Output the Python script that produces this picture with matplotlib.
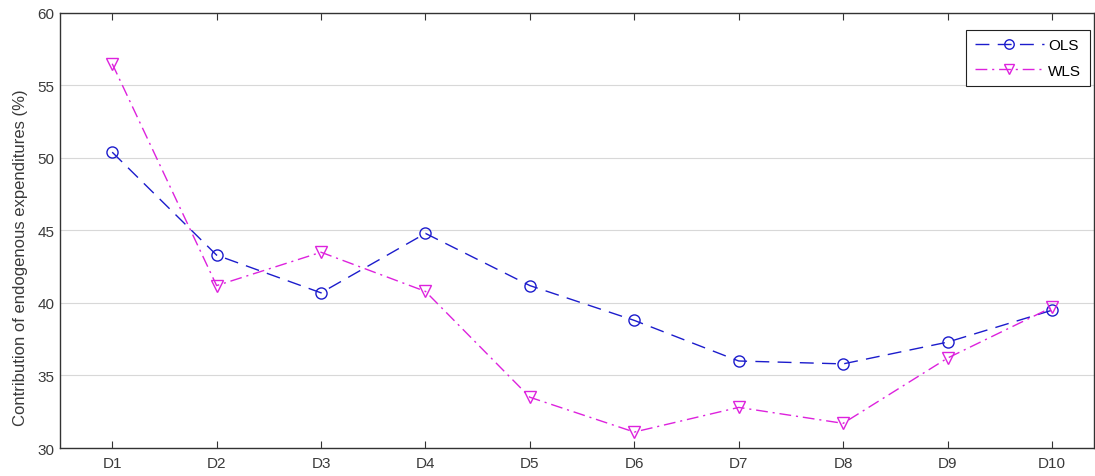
import numpy as np
import matplotlib
matplotlib.use('Agg')
from matplotlib import pyplot as plt

# categories and series values
deciles = ['D1', 'D2', 'D3', 'D4', 'D5', 'D6', 'D7', 'D8', 'D9', 'D10']
ols = [50.4, 43.3, 40.7, 44.8, 41.2, 38.8, 36.0, 35.8, 37.3, 39.5]
wls = [56.5, 41.2, 43.5, 40.8, 33.5, 31.1, 32.8, 31.7, 36.2, 39.7]
y_ticks = [30, 35, 40, 45, 50, 55, 60]

plt.rcParams['font.family'] = ['Liberation Sans', 'DejaVu Sans']

fig = plt.figure(figsize=(10.95, 4.77), dpi=100)
ax = fig.add_axes([0.0548, 0.0587, 0.944, 0.912])

x = np.arange(1, len(deciles) + 1)
ax.plot(x, ols, linestyle=(0, (10, 6)), color='#1c1ccc', linewidth=1.0,
        marker='o', markersize=8, markerfacecolor='none',
        markeredgecolor='#1c1ccc', markeredgewidth=1.0, label='OLS')
ax.plot(x, wls, linestyle=(0, (8.5, 3.5, 1.5, 3.5)), color='#dd22dd',
        linewidth=1.0, marker='v', markersize=9, markerfacecolor='none',
        markeredgecolor='#dd22dd', markeredgewidth=1.0, label='WLS')

ax.set_xlim(0.5, 10.4)
ax.set_ylim(30, 60)
ax.set_xticks(x)
ax.set_xticklabels(deciles)
ax.set_yticks(y_ticks)
ax.yaxis.grid(True, color='#d8d8d8', linewidth=0.8)
ax.set_axisbelow(True)
ax.tick_params(direction='in', top=True, right=False, length=5,
               labelsize=11, labelcolor='#3a3a3a', color='#333333')
ax.tick_params(axis='x', pad=6)
ax.tick_params(axis='y', length=0, pad=4)
for sp in ax.spines.values():
    sp.set_color('#333333')
    sp.set_linewidth(1.0)

ax.set_ylabel('Contribution of endogenous expenditures (%)', fontsize=12,
              color='#3a3a3a')
ax.yaxis.set_label_coords(-0.031, 0.44)

leg = ax.legend(loc='upper right', bbox_to_anchor=(0.996, 0.961),
                borderaxespad=0, fontsize=11, fancybox=False,
                framealpha=1, edgecolor='#222222', handlelength=4.5,
                handletextpad=0.3, borderpad=0.55, labelspacing=0.75,
                markerscale=0.85)
leg.get_frame().set_linewidth(0.8)

fig.savefig('out.png', dpi=100)
